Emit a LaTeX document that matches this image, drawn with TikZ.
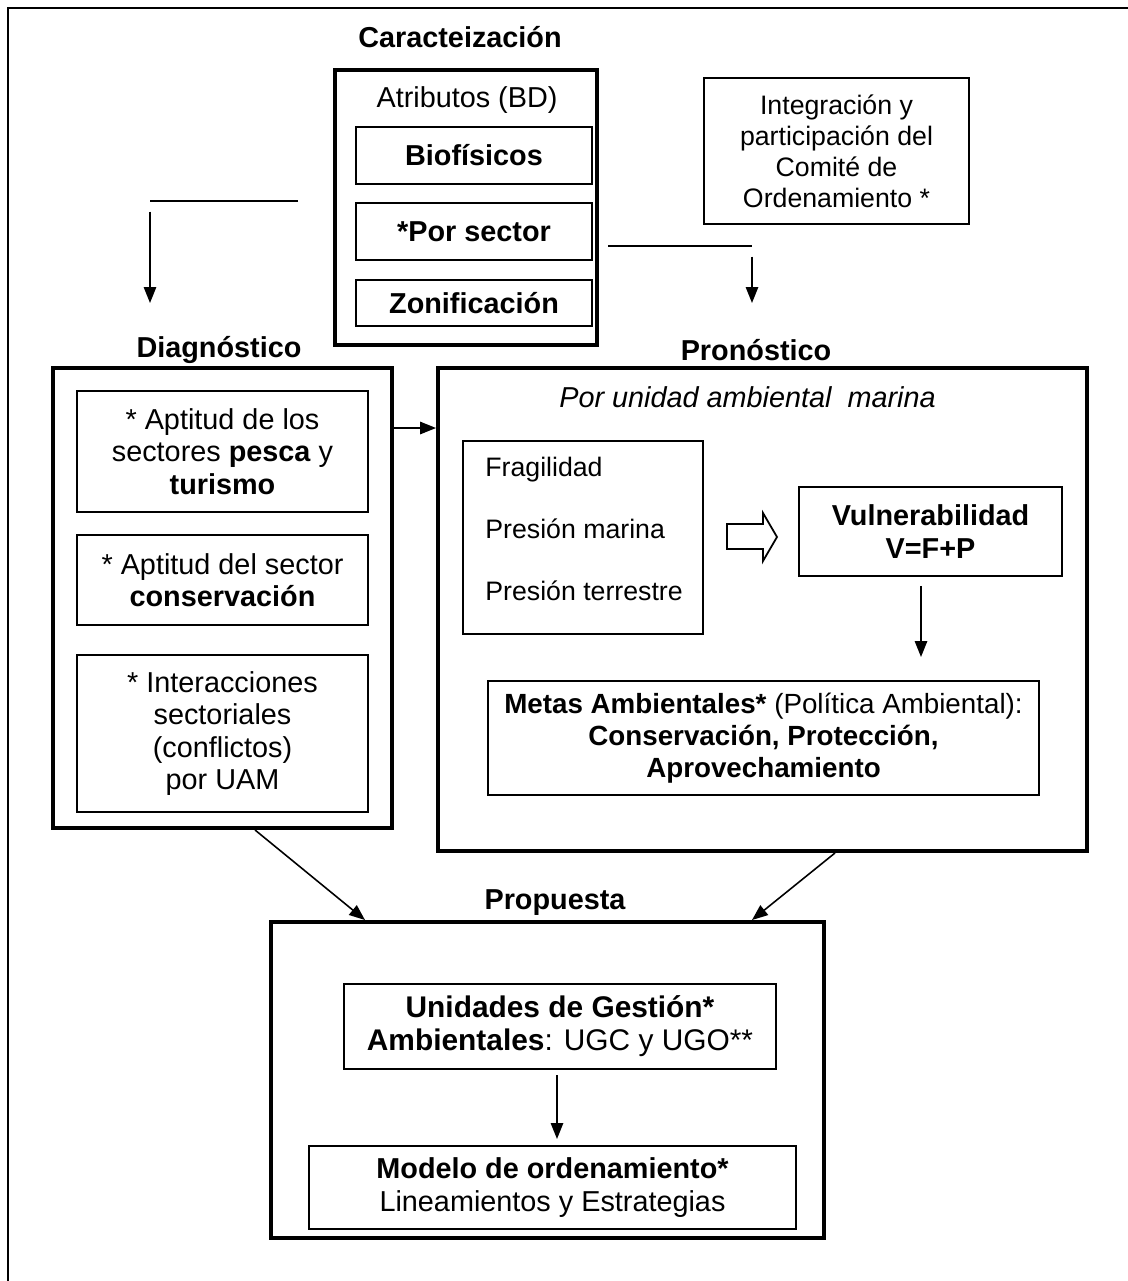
\documentclass[tikz,border=0pt]{standalone}
\usepackage{fontspec}
\setmainfont{Liberation Sans}
\usetikzlibrary{arrows.meta}

\def\basefont{\fontsize{16.4}{18.5}\selectfont}
\def\smallfont{\fontsize{15.2}{17.6}\selectfont}

\tikzset{
  thinbox/.style={draw, line width=1pt, align=center, inner sep=0pt, font=\basefont},
  thickbox/.style={draw, line width=2.3pt, inner sep=0pt},
  heading/.style={font=\basefont\bfseries},
  plain/.style={font=\basefont, align=center},
  arr/.style={-{Triangle[length=9pt,width=7pt]}, line width=0.9pt},
}

\begin{document}
\begin{tikzpicture}[x=0.02cm, y=-0.02cm]
  \useasboundingbox (0,0) rectangle (1128,1281);
  \draw[line width=0.9pt] (8,1281) -- (8,8) -- (1128,8);

  % caracterizacion
  \node[heading] (tcar) at (460,37) {Caracteización};
  \node[thickbox, minimum width=5.24cm, minimum height=5.5cm] (car) at (466,207.5) {};
  \node[plain] (atrib) at (467,100) {Atributos (BD)};
  \node[thinbox, minimum width=4.72cm, minimum height=1.14cm] (bio) at (474,155.5) {\textbf{Biofísicos}};
  \node[thinbox, minimum width=4.72cm, minimum height=1.14cm] (sec) at (474,231.5) {\textbf{*Por sector}};
  \node[thinbox, minimum width=4.72cm, minimum height=0.92cm] (zon) at (474,303) {\textbf{Zonificación}};

  \node[thinbox, font=\smallfont, minimum width=5.3cm, minimum height=2.92cm] (comite) at (836.5,151)
    {Integración y\\ participación del\\ Comité de\\ Ordenamiento *};

  \coordinate (la) at (298,201);
  \coordinate (lb) at (150,201);
  \coordinate (ra) at (608,246);
  \coordinate (rb) at (752,246);
  \draw[line width=0.9pt] (la) -- (lb);
  \draw[arr] ([yshift=-6]lb) -- (150,303);
  \draw[line width=0.9pt] (ra) -- (rb);
  \draw[arr] ([yshift=-6]rb) -- (752,303);

  % diagnostico
  \node[heading] (tdiag) at (219,350) {Diagnóstico};
  \node[thickbox, minimum width=6.78cm, minimum height=9.2cm] (diag) at (222.5,598) {};
  \node[thinbox, minimum width=5.82cm, minimum height=2.42cm] (apt1) at (222.5,451.5)
    {* Aptitud de los\\ sectores \textbf{pesca} y\\ \textbf{turismo}};
  \node[thinbox, minimum width=5.82cm, minimum height=1.8cm] (apt2) at (222.5,580)
    {* Aptitud del sector\\ \textbf{conservación}};
  \node[thinbox, minimum width=5.82cm, minimum height=3.14cm] (inter) at (222.5,733.5)
    {* Interacciones\\ sectoriales\\ (conflictos)\\ por UAM};

  % pronostico
  \node[heading] (tpron) at (756,350) {Pronóstico};
  \node[thickbox, minimum width=12.98cm, minimum height=9.66cm] (pron) at (762.5,609.5) {};
  \node[plain, font=\basefont\itshape] (uam) at (747.5,397) {Por unidad ambiental\ \ marina};
  \node[thinbox, minimum width=4.8cm, minimum height=3.86cm] (frag) at (583,537.5) {};
  \node[align=left, anchor=west, inner sep=0pt, font=\smallfont] (fragtxt) at (485,529)
    {Fragilidad\\[17.6pt]Presión marina\\[17.6pt]Presión terrestre};
  \draw[line width=1pt] (727,524) -- (763,524) -- (763,513) -- (777,537) -- (763,561)
    -- (763,549) -- (727,549) -- cycle;
  \node[thinbox, minimum width=5.26cm, minimum height=1.78cm] (vul) at (930.5,531.5)
    {\textbf{Vulnerabilidad}\\ \textbf{V=F+P}};
  \node[thinbox, font=\fontsize{15.8}{18.2}\selectfont, minimum width=11.02cm, minimum height=2.28cm] (metas) at (763.5,738)
    {\textbf{Metas Ambientales*} (Política Ambiental):\\ \textbf{Conservación, Protección,}\\ \textbf{Aprovechamiento}};
  \draw[arr] (vul.south -| 921,0) ++(0,9) -- (921,657);

  \draw[arr] (diag.east |- 0,428) -- (pron.west |- 0,428);

  % propuesta
  \node[heading] (tprop) at (555,903) {Propuesta};
  \node[thickbox, minimum width=11.06cm, minimum height=6.32cm] (prop) at (547.5,1080) {};
  \node[thinbox, font=\fontsize{17}{18.8}\selectfont, minimum width=8.64cm, minimum height=1.7cm] (ugc) at (560,1026.5)
    {\textbf{Unidades de Gestión*}\\ \textbf{Ambientales}: UGC y UGO**};
  \node[thinbox, minimum width=9.74cm, minimum height=1.66cm] (modelo) at (552.5,1187.5)
    {\textbf{Modelo de ordenamiento*}\\ Lineamientos y Estrategias};
  \draw[arr] (557,1075) -- (557,1139);

  \draw[arr] (diag.south -| 255,0) -- (prop.north -| 365,0);
  \draw[arr] (pron.south -| 835,0) -- (prop.north -| 752,0);
\end{tikzpicture}
\end{document}
